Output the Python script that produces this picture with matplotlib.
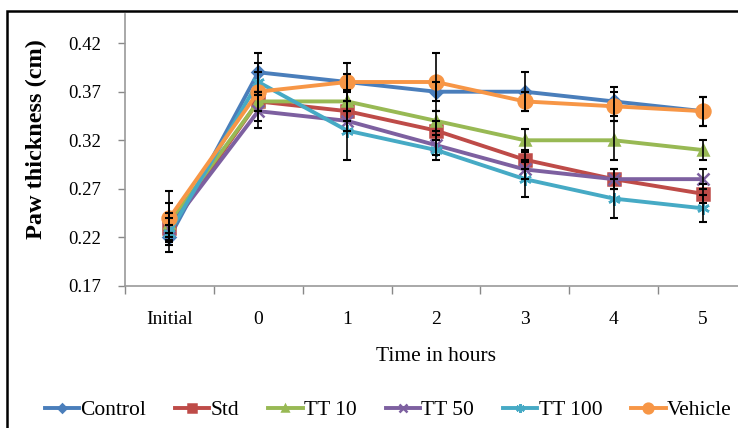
import matplotlib
matplotlib.use("Agg")
import matplotlib.pyplot as plt
from matplotlib.patches import Rectangle

# Paw thickness over time
times = ['Initial', '0', '1', '2', '3', '4', '5']
series_names = ['Control', 'Std', 'TT 10', 'TT 50', 'TT 100', 'Vehicle']

control = [0.220, 0.390, 0.380, 0.370, 0.370, 0.360, 0.350]
std = [0.230, 0.360, 0.350, 0.330, 0.300, 0.280, 0.265]
tt10 = [0.235, 0.360, 0.360, 0.340, 0.320, 0.320, 0.310]
tt50 = [0.230, 0.350, 0.340, 0.315, 0.290, 0.280, 0.280]
tt100 = [0.225, 0.380, 0.330, 0.310, 0.280, 0.260, 0.250]
vehicle = [0.240, 0.370, 0.380, 0.380, 0.360, 0.355, 0.350]

control_err = [0.005, 0.020, 0.008, 0.010, 0.020, 0.015, 0.015]
std_err = [0.025, 0.010, 0.010, 0.010, 0.010, 0.010, 0.010]
tt10_err = [0.010, 0.010, 0.010, 0.010, 0.012, 0.020, 0.010]
tt50_err = [0.010, 0.017, 0.010, 0.010, 0.010, 0.010, 0.010]
tt100_err = [0.008, 0.010, 0.030, 0.010, 0.018, 0.020, 0.014]
vehicle_err = [0.028, 0.030, 0.020, 0.030, 0.010, 0.015, 0.015]

y_ticks = [0.17, 0.22, 0.27, 0.32, 0.37, 0.42]

colors = ['#4a7ebb', '#be4b48', '#98b954', '#7d60a0', '#46aac5', '#f79646']
markers = ['D', 's', '^', 'x', (6, 2, 0), 'o']
msizes = [6, 8, 7, 8, 9, 10]

plt.rcParams['font.family'] = ['Liberation Serif', 'DejaVu Serif']

fig = plt.figure(figsize=(7.38, 4.28), dpi=100)
ax = fig.add_axes([125 / 738, 1 - 286 / 428, 622 / 738, 272 / 428])

data = [control, std, tt10, tt50, tt100, vehicle]
errs = [control_err, std_err, tt10_err, tt50_err, tt100_err, vehicle_err]
x = list(range(len(times)))

for vals, err, name, c, m, ms in zip(data, errs, series_names, colors, markers, msizes):
    ax.errorbar(x, vals, yerr=err, fmt='none', ecolor='black', elinewidth=1.2,
                capsize=3, capthick=1.5, zorder=3)
    ax.plot(x, vals, color=c, lw=2.8, marker=m, markersize=ms,
            markeredgecolor=c, markeredgewidth=1.8, label=name, zorder=2)

ax.set_xlim(-0.5, 6.5)
ax.set_ylim(0.17, 0.45)
ax.set_yticks(y_ticks)
ax.set_yticklabels([f'{v:.2f}' for v in y_ticks], fontsize=13.5)
ax.set_xticks(x)
ax.set_xticklabels(times, fontsize=14)
ax.set_xticks([i - 0.5 for i in range(len(times) + 1)], minor=True)
ax.tick_params(axis='x', which='major', length=0, pad=18)
ax.tick_params(axis='x', which='minor', length=6, color='#888888', width=1)
ax.tick_params(axis='y', length=5, color='#888888', width=1, pad=12)

for s in ['top', 'right']:
    ax.spines[s].set_visible(False)
for s in ['left', 'bottom']:
    ax.spines[s].set_color('#999999')
    ax.spines[s].set_linewidth(1.2)

ax.set_xlabel('Time in hours', fontsize=15.5, labelpad=14)
ax.set_ylabel('Paw thickness (cm)', fontsize=17.5, fontweight='bold')
ax.yaxis.set_label_coords(-0.125, 0.54)

fig.legend(loc='center', bbox_to_anchor=(388 / 738, 1 - 410 / 428), ncol=6,
           frameon=False, fontsize=15.5, handlelength=1.6, handletextpad=0.05,
           columnspacing=1.35, markerscale=0.7, borderaxespad=0)

# outer frame (cropped on right and bottom in the reference)
fig.add_artist(Rectangle((7 / 738, -0.2), 1.2, 1 - 11 / 428 + 0.2,
                         transform=fig.transFigure, fill=False,
                         edgecolor='black', lw=1.8, clip_on=False))

fig.savefig('out.png', dpi=100)
